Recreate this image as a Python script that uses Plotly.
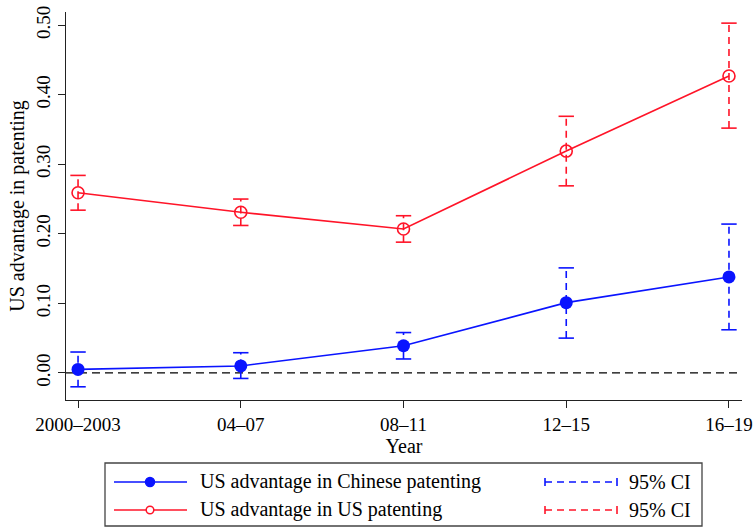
import plotly.graph_objects as go

periods = ["2000–2003", "04–07", "08–11", "12–15", "16–19"]
cn_est = [0.005, 0.010, 0.039, 0.101, 0.138]
cn_lo = [-0.020, -0.008, 0.020, 0.050, 0.062]
cn_hi = [0.030, 0.029, 0.058, 0.151, 0.214]
us_est = [0.259, 0.231, 0.207, 0.319, 0.427]
us_lo = [0.234, 0.212, 0.188, 0.269, 0.352]
us_hi = [0.284, 0.250, 0.226, 0.369, 0.503]
series_names = ["US advantage in Chinese patenting", "US advantage in US patenting"]
ci_label = "95% CI"

BLUE = "#0a14ff"
RED = "#ff1428"
FONT = "Liberation Serif"

W, H = 756, 529
L, R, T, B = 66, 742, 12, 400


def px(x):
    return (x - L) / (R - L)


def py(y):
    return (B - y) / (B - T)


xs = list(range(len(periods)))
fig = go.Figure()

fig.add_shape(type="line", xref="paper", x0=0, x1=1, yref="y", y0=0, y1=0,
              line=dict(color="black", width=1.4, dash="8px,5px"), layer="below")


def ci_traces(lo, hi, color):
    sx, sy = [], []
    for x, a, b in zip(xs, lo, hi):
        sx += [x, x, None]
        sy += [a, b, None]
    fig.add_trace(go.Scatter(x=sx, y=sy, mode="lines", name=ci_label,
                             line=dict(color=color, width=1.6, dash="7px,5px"),
                             showlegend=False, hoverinfo="skip"))
    fig.add_trace(go.Scatter(x=xs + xs, y=list(lo) + list(hi), mode="markers",
                             marker=dict(symbol="line-ew", size=11,
                                         line=dict(color=color, width=1.6)),
                             showlegend=False, hoverinfo="skip"))


ci_traces(cn_lo, cn_hi, BLUE)
ci_traces(us_lo, us_hi, RED)

fig.add_trace(go.Scatter(x=xs, y=cn_est, mode="lines+markers", name=series_names[0],
                         line=dict(color=BLUE, width=1.6),
                         marker=dict(symbol="circle", size=13, color=BLUE),
                         showlegend=False))
fig.add_trace(go.Scatter(x=xs, y=us_est, mode="lines+markers", name=series_names[1],
                         line=dict(color=RED, width=1.6),
                         marker=dict(symbol="circle-open", size=12, color=RED,
                                     line=dict(width=1.6, color=RED)),
                         showlegend=False))

# ---- hand-built legend (Stata style) ----
fig.add_shape(type="rect", xref="paper", yref="paper",
              x0=px(105), x1=px(702), y0=py(526), y1=py(463),
              line=dict(color="#444444", width=1.3))
rows = [482, 510]
colors = [BLUE, RED]
for i, (ry, c) in enumerate(zip(rows, colors)):
    yy = py(ry)
    fig.add_shape(type="line", xref="paper", yref="paper", x0=px(114), x1=px(187),
                  y0=yy, y1=yy, line=dict(color=c, width=1.6))
    r = 4.5 if i == 0 else 3.8
    fig.add_shape(type="circle", xref="paper", yref="paper",
                  xsizemode="pixel", ysizemode="pixel", xanchor=px(150), yanchor=yy,
                  x0=-r, x1=r, y0=-r, y1=r,
                  line=dict(color=c, width=1.5),
                  fillcolor=c if i == 0 else "white")
    fig.add_annotation(xref="paper", yref="paper", x=px(198), y=yy, text=series_names[i],
                       showarrow=False, xanchor="left", yanchor="middle",
                       font=dict(size=20, family=FONT, color="black"))
    fig.add_shape(type="line", xref="paper", yref="paper", x0=px(545), x1=px(617),
                  y0=yy, y1=yy, line=dict(color=c, width=1.6, dash="7px,5px"))
    for cx in (545, 617):
        fig.add_shape(type="line", xref="paper", yref="paper",
                      ysizemode="pixel", yanchor=yy, y0=-4, y1=4,
                      x0=px(cx), x1=px(cx), line=dict(color=c, width=1.6))
    fig.add_annotation(xref="paper", yref="paper", x=px(627), y=yy, text=ci_label,
                       showarrow=False, xanchor="left", yanchor="middle",
                       font=dict(size=20, family=FONT, color="black"))

fig.update_layout(
    width=W, height=H,
    margin=dict(l=L, r=W - R, t=T, b=H - B),
    plot_bgcolor="white", paper_bgcolor="white",
    font=dict(family=FONT, size=19, color="black"),
    showlegend=False,
    xaxis=dict(range=[-0.074, 4.08], tickmode="array", tickvals=xs, ticktext=periods,
               showline=True, linecolor="#222222", linewidth=1.3, ticks="outside",
               ticklen=7, tickwidth=1.3, tickcolor="#222222", showgrid=False, zeroline=False,
               automargin=False, ticklabeloverflow="allow", tickfont=dict(size=19),
               title=dict(text="Year", standoff=0, font=dict(size=20))),
    yaxis=dict(range=[-0.039, 0.519], tickmode="array",
               tickvals=[0, 0.1, 0.2, 0.3, 0.4, 0.5],
               ticktext=["0.00", "0.10", "0.20", "0.30", "0.40", "0.50"],
               tickangle=-90,
               showline=True, linecolor="#222222", linewidth=1.3, ticks="outside",
               ticklen=7, tickwidth=1.3, tickcolor="#222222", showgrid=False, zeroline=False,
               automargin=False, ticklabeloverflow="allow", tickfont=dict(size=19),
               title=dict(text="US advantage in patenting", standoff=3, font=dict(size=20))),
)

fig.write_html("out.html", config={"displayModeBar": False},
               post_script="document.body.style.margin='0';document.body.style.overflow='hidden';")
